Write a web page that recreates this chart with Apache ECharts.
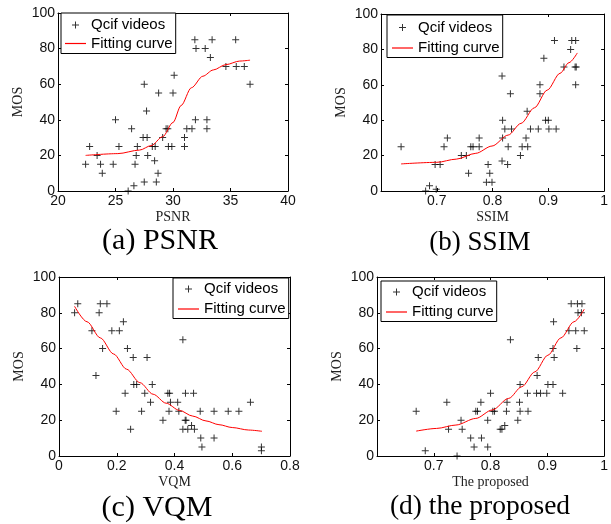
<!DOCTYPE html>
<html>
<head>
<meta charset="utf-8">
<script src="https://cdn.jsdelivr.net/npm/echarts@6/dist/echarts.min.js"></script>
<style>
  html, body { margin: 0; padding: 0; background: #fff; }
  #chart { width: 611px; height: 524px; }
</style>
</head>
<body>
<div id="chart"></div>
<script>
// (a) PSNR vs MOS
const psnrX = [22.4, 22.75, 23.4, 23.7, 23.85, 24.8, 25.0, 25.3, 26.1, 26.4,
               26.6, 26.7, 26.8, 26.9, 27.4, 27.5, 27.5, 27.7, 27.75, 27.8,
               28.2, 28.45, 28.4, 28.55, 28.7, 28.75, 29.1, 29.4, 29.55, 29.6,
               29.9, 30.0, 30.1, 31.0, 31.0, 31.2, 31.65, 31.9, 31.95, 32.0,
               32.8, 32.95, 32.95, 33.25, 33.4, 34.6, 35.45, 35.5, 36.2, 36.7];
const psnrMos = [15, 25, 20, 15, 10, 15, 40, 25, 0, 35,
                 3, 15, 20, 25, 30, 5, 60, 45, 30, 20,
                 25, 25, 17, 5, 10, 55, 30, 35, 35, 25,
                 25, 55, 65, 30, 25, 35, 35, 85, 40, 80,
                 80, 40, 35, 75, 85, 70, 85, 70, 70, 60];
const psnrFitX   = [22.4, 25.2, 27.1, 28.1, 29.1, 30.0, 30.7, 31.6, 32.6, 33.5, 34.6, 35.8, 36.7];
const psnrFitMos = [20, 21, 23, 25.5, 30.5, 38.5, 48, 58, 64.5, 68, 71, 73, 73.5];

// (b) SSIM vs MOS
const ssimX = [0.636, 0.680, 0.687, 0.699, 0.697, 0.706, 0.713, 0.719, 0.744, 0.753,
               0.757, 0.761, 0.765, 0.776, 0.776, 0.792, 0.789, 0.795, 0.799, 0.817,
               0.817, 0.818, 0.818, 0.822, 0.827, 0.828, 0.832, 0.834, 0.850, 0.853,
               0.860, 0.862, 0.863, 0.868, 0.882, 0.885, 0.885, 0.892, 0.895, 0.900,
               0.901, 0.911, 0.914, 0.928, 0.940, 0.942, 0.949, 0.948, 0.950, 0.949];
const ssimMos = [25, 0, 3, 1, 15, 15, 25, 30, 20, 20,
                 10, 25, 25, 30, 25, 15, 5, 10, 5, 65,
                 17, 40, 30, 35, 15, 25, 55, 35, 20, 25,
                 30, 45, 25, 35, 35, 60, 55, 75, 40, 40,
                 35, 85, 35, 70, 80, 85, 85, 70, 70, 60];
const ssimFitX   = [0.636, 0.700, 0.735, 0.770, 0.799, 0.828, 0.851, 0.875, 0.898, 0.921, 0.937, 0.952];
const ssimFitMos = [15.3, 16.2, 18, 21.3, 25.4, 31.6, 38.2, 47, 57, 66.5, 72.5, 78];

// (c) VQM vs MOS
const vqmX = [0.054, 0.065, 0.114, 0.128, 0.139, 0.143, 0.151, 0.166, 0.183, 0.198,
              0.209, 0.223, 0.229, 0.237, 0.248, 0.257, 0.259, 0.269, 0.286, 0.297,
              0.305, 0.317, 0.323, 0.360, 0.377, 0.383, 0.381, 0.386, 0.411, 0.415,
              0.429, 0.429, 0.437, 0.438, 0.440, 0.446, 0.459, 0.466, 0.469, 0.489,
              0.491, 0.495, 0.537, 0.537, 0.586, 0.623, 0.663, 0.701, 0.701];
const vqmMos = [80, 85, 70, 45, 80, 85, 60, 85, 70, 25,
                70, 75, 35, 60, 15, 55, 40, 40, 25, 35,
                55, 30, 40, 20, 35, 35, 25, 30, 30, 25,
                65, 15, 20, 35, 20, 15, 17, 35, 15, 25,
                10, 5, 25, 10, 25, 25, 30, 5, 3];
const vqmFitX   = [0.054, 0.097, 0.143, 0.189, 0.234, 0.280, 0.326, 0.371, 0.417, 0.463, 0.509, 0.554, 0.600, 0.657, 0.703];
const vqmFitMos = [83.6, 75, 66, 57, 48.5, 41, 34.5, 29.5, 25.5, 22.3, 19.6, 17.5, 15.9, 14.5, 13.8];

// (d) the proposed metric vs MOS
const propX = [0.669, 0.685, 0.723, 0.726, 0.741, 0.748, 0.750, 0.765, 0.771, 0.774,
               0.777, 0.783, 0.784, 0.795, 0.795, 0.800, 0.804, 0.807, 0.817, 0.820,
               0.825, 0.828, 0.829, 0.835, 0.848, 0.851, 0.852, 0.852, 0.866, 0.865,
               0.881, 0.882, 0.884, 0.888, 0.899, 0.901, 0.910, 0.910, 0.911, 0.912,
               0.927, 0.938, 0.942, 0.950, 0.952, 0.953, 0.954, 0.960, 0.961, 0.965];
const propMos = [25, 3, 30, 15, 0, 20, 15, 10, 5, 25,
                 25, 30, 10, 20, 5, 35, 25, 25, 15, 15,
                 17, 25, 30, 65, 20, 30, 25, 40, 25, 35,
                 35, 45, 55, 35, 35, 40, 40, 60, 75, 55,
                 35, 70, 85, 70, 60, 85, 80, 80, 85, 70];
const propFitX   = [0.669, 0.705, 0.739, 0.774, 0.803, 0.832, 0.855, 0.878, 0.901, 0.924, 0.947, 0.965];
const propFitMos = [13.9, 15.4, 17.3, 21, 25.7, 32.2, 38.7, 47, 56.3, 66, 75, 82];

// axis ranges [min, max, step]
const psnrRange = [20, 40, 5];
const ssimRange = [0.6, 1, 0.1];
const vqmRange  = [0, 0.8, 0.2];
const propRange = [0.6, 1, 0.1];
const mosRange  = [0, 100, 20];

const SANS  = "'Liberation Sans', Arial, sans-serif";
const SERIF = "'Liberation Serif', 'Times New Roman', serif";
// thin "+" marker, 7x7 with 1px strokes
const PLUS = 'path://M3,0h1v3h3v1h-3v3h-1v-3h-3v-1h3z';
// plain line for the legend (no dot)
const DASH = 'path://M0,0h21v1.2h-21z';

const panels = [
    { xs: psnrX, ys: psnrMos, fx: psnrFitX, fy: psnrFitMos, range: psnrRange, name: 'PSNR', caption: '(a) PSNR',
      grid: { left: 58, top: 13, width: 230, height: 178 }, showMin: true,
      legend: { left: 61, top: 13, padding: [4.5, 3, 2.5, 4], itemGap: 3.5 },
      cap: { x: 160, y: 241, size: 30 } },
    { xs: ssimX, ys: ssimMos, fx: ssimFitX, fy: ssimFitMos, range: ssimRange, name: 'SSIM', caption: '(b) SSIM',
      grid: { left: 381, top: 14, width: 229, height: 177 }, showMin: false,
      legend: { left: 387, top: 15, padding: [5, 3, 2, 5], itemGap: 5.5 },
      cap: { x: 480, y: 243, size: 27 } },
    { xs: vqmX, ys: vqmMos, fx: vqmFitX, fy: vqmFitMos, range: vqmRange, name: 'VQM', caption: '(c) VQM',
      grid: { left: 59, top: 277, width: 231, height: 179 }, showMin: true,
      legend: { left: 173, top: 278, padding: [3.5, 3, 2, 5], itemGap: 5 },
      cap: { x: 157, y: 508, size: 30 } },
    { xs: propX, ys: propMos, fx: propFitX, fy: propFitMos, range: propRange, name: 'The proposed', caption: '(d) the proposed',
      grid: { left: 377, top: 277, width: 232, height: 179 }, showMin: false,
      legend: { left: 381, top: 281, padding: [3.5, 3, 2, 5], itemGap: 5 },
      cap: { x: 480, y: 507, size: 27.5 } },
];

const grid = [], xAxis = [], yAxis = [], series = [], legend = [], title = [];

const axisLine = { onZero: false, lineStyle: { color: '#000', width: 1 } };
const axisTick = { inside: true, length: 3, lineStyle: { color: '#000', width: 1 } };
const tickLabel = { color: '#111', fontFamily: SANS, fontSize: 14 };
const nameStyle = { color: '#222', fontFamily: SERIF, fontSize: 14 };

panels.forEach((p, i) => {
    grid.push(p.grid);

    const [xMin, xMax, xStep] = p.range;
    const [yMin, yMax, yStep] = mosRange;
    const xBase = { type: 'value', gridIndex: i, min: xMin, max: xMax, interval: xStep,
                    splitLine: { show: false }, axisLine, axisTick };
    const yBase = { type: 'value', gridIndex: i, min: yMin, max: yMax, interval: yStep,
                    splitLine: { show: false }, axisLine, axisTick };

    xAxis.push({ ...xBase, position: 'bottom', name: p.name, nameLocation: 'middle', nameGap: 19,
                 nameTextStyle: nameStyle,
                 axisLabel: { ...tickLabel, margin: 3, showMinLabel: p.showMin } });
    xAxis.push({ ...xBase, position: 'top', axisLabel: { show: false } });
    yAxis.push({ ...yBase, position: 'left', name: 'MOS', nameLocation: 'middle', nameGap: 33,
                 nameTextStyle: nameStyle,
                 axisLabel: { ...tickLabel, margin: 3 } });
    yAxis.push({ ...yBase, position: 'right', axisLabel: { show: false } });

    series.push({
        name: 'Qcif videos', type: 'scatter',
        xAxisIndex: 2 * i, yAxisIndex: 2 * i,
        data: p.xs.map((x, k) => [x, p.ys[k]]),
        symbol: PLUS, symbolSize: 7, clip: false,
        itemStyle: { color: '#000' },
    });
    series.push({
        name: 'Fitting curve', type: 'line',
        xAxisIndex: 2 * i, yAxisIndex: 2 * i,
        data: p.fx.map((x, k) => [x, p.fy[k]]),
        symbol: 'none', smooth: 0.3, smoothMonotone: 'x',
        lineStyle: { color: '#ff0000', width: 1 },
        itemStyle: { color: '#ff0000' },
    });

    legend.push({
        ...p.legend,
        orient: 'vertical', selectedMode: false,
        itemWidth: 21, itemHeight: 7,
        borderColor: '#000', borderWidth: 1, borderRadius: 0, backgroundColor: '#fff',
        textStyle: { color: '#000', fontFamily: SANS, fontSize: 15 },
        data: [{ name: 'Qcif videos', icon: PLUS },
               { name: 'Fitting curve', icon: DASH, itemStyle: { color: '#ff0000' } }],
    });

    title.push({
        text: p.caption, left: p.cap.x, top: p.cap.y, padding: 0,
        textAlign: 'center', textVerticalAlign: 'middle',
        textStyle: { color: '#000', fontFamily: SERIF, fontSize: p.cap.size, fontWeight: 'normal' },
    });
});

const chart = echarts.init(document.getElementById('chart'));
chart.setOption({
    animation: false,
    backgroundColor: '#fff',
    title, grid, xAxis, yAxis, legend, series,
});
</script>
</body>
</html>
